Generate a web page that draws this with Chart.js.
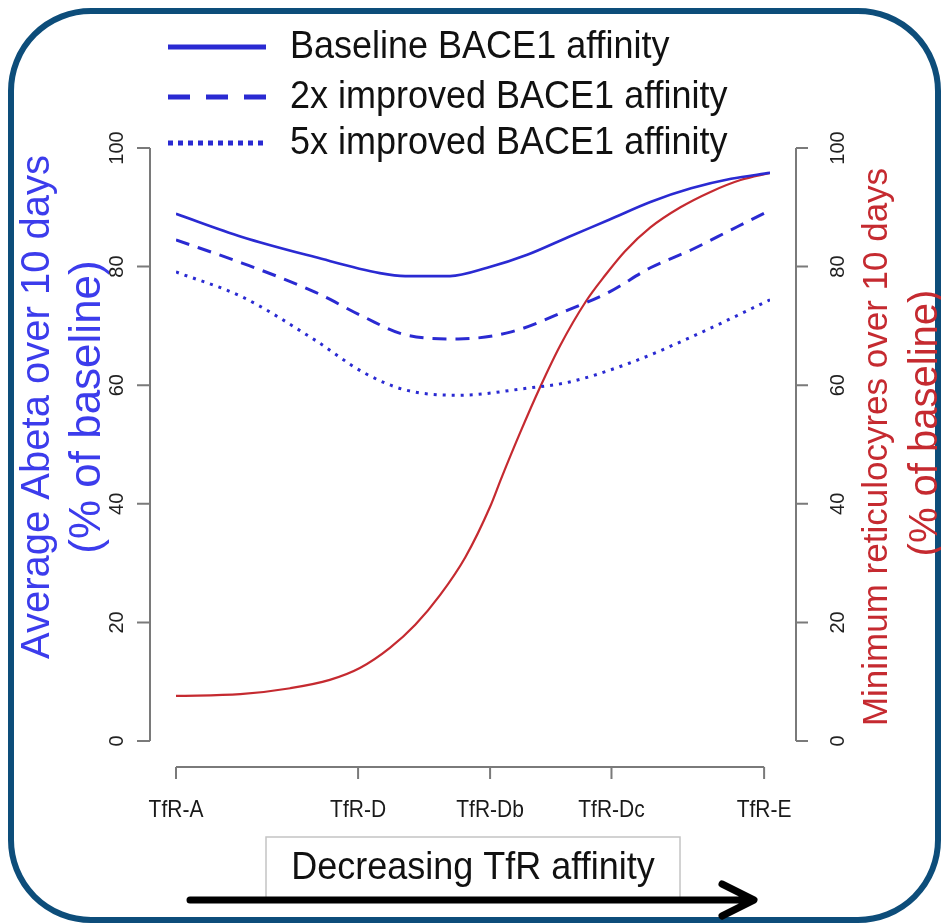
<!DOCTYPE html>
<html lang="en">
<head>
    <meta charset="UTF-8">
    <title>TfR affinity</title>
    <script src="https://cdn.jsdelivr.net/npm/chart.js@4.4.1/dist/chart.umd.min.js"></script>
    <style>
        html, body { margin: 0; padding: 0; background: #fff; }
        #wrap { width: 941px; height: 923px; }
    </style>
</head>
<body>
    <div id="wrap"><canvas id="chart" width="941" height="923"></canvas></div>

    <script>
        // x positions are relative TfR affinity (0 = TfR-A, ~100 = TfR-E)
        const tickNames = ["TfR-A", "TfR-D", "TfR-Db", "TfR-Dc", "TfR-E"];
        const tickPos = [0, 30.9, 53.3, 73.9, 99.8];
        const yTicks = [0, 20, 40, 60, 80, 100];

        const baseX = [0, 11.2, 23.6, 34.6, 38.9, 46.5, 52.8, 59.6, 66.6, 73.5, 80.5, 87.4, 94.2, 100.8];
        const baseY = [88.9, 85.0, 81.6, 78.9, 78.4, 78.4, 79.8, 82.0, 85.0, 87.9, 90.9, 93.2, 94.8, 95.8];

        const twoX = [0, 11.2, 23.6, 31.9, 38.9, 47.9, 56.9, 66.6, 73.5, 80.5, 87.4, 94.2, 100.8];
        const twoY = [84.5, 80.6, 75.7, 71.5, 68.5, 67.8, 69.0, 72.7, 75.7, 79.8, 82.8, 86.2, 89.5];

        const fiveX = [0, 11.2, 23.6, 31.9, 38.9, 47.9, 59.6, 66.6, 76.9, 87.4, 100.8];
        const fiveY = [79.1, 74.9, 67.6, 62.1, 59.2, 58.3, 59.5, 60.5, 63.7, 68.1, 74.4];

        const retX = [0, 10.9, 19.4, 26.1, 31.2, 36.3, 40.6, 44.8, 49.1, 53.3, 55.2, 58.4, 61.8, 65.2, 69.6, 72.8, 76.2, 80.5, 85.6, 90.7, 95.8, 100.8];
        const retY = [7.6, 7.9, 8.9, 10.3, 12.3, 15.7, 19.6, 24.6, 31.0, 39.5, 44.3, 52.0, 59.7, 66.7, 74.2, 78.5, 82.6, 86.6, 90.0, 92.6, 94.6, 95.8];

        const legendNames = ["Baseline BACE1 affinity", "2x improved BACE1 affinity", "5x improved BACE1 affinity"];

        const BLUE = "#2a2ad2";
        const RED = "#c52a30";
        const FONT = "'Liberation Sans', Arial, sans-serif";

        function pts(xs, ys) {
            return xs.map((x, i) => ({ x: x, y: ys[i] }));
        }

        // text drawn at (x, y), optionally stretched vertically by sy like the source image
        function txt(ctx, s, x, y, size, color, rot, sy, align) {
            ctx.save();
            ctx.translate(x, y);
            ctx.scale(1, sy || 1);
            ctx.rotate(rot || 0);
            ctx.font = size + "px " + FONT;
            ctx.fillStyle = color;
            ctx.textAlign = align || "center";
            ctx.textBaseline = "middle";
            ctx.fillText(s, 0, 0);
            ctx.restore();
        }

        const decor = {
            id: "decor",
            beforeDraw(chart) {
                const ctx = chart.ctx;
                ctx.save();
                ctx.fillStyle = "#fff";
                ctx.fillRect(0, 0, chart.width, chart.height);
                // rounded frame
                ctx.strokeStyle = "#0d4d7a";
                ctx.lineWidth = 6;
                ctx.beginPath();
                ctx.roundRect(11, 11, 927, 909, 80);
                ctx.stroke();
                ctx.restore();
            },
            afterDraw(chart) {
                const ctx = chart.ctx;
                const xs = chart.scales.x, yl = chart.scales.y, yr = chart.scales.y2;
                ctx.save();

                // axes, R style
                ctx.strokeStyle = "#7a7a7a";
                ctx.lineWidth = 2;
                ctx.beginPath();
                ctx.moveTo(150, yl.getPixelForValue(0));
                ctx.lineTo(150, yl.getPixelForValue(100));
                yTicks.forEach(v => { const p = yl.getPixelForValue(v); ctx.moveTo(150, p); ctx.lineTo(137, p); });
                ctx.moveTo(796, yr.getPixelForValue(0));
                ctx.lineTo(796, yr.getPixelForValue(100));
                yTicks.forEach(v => { const p = yr.getPixelForValue(v); ctx.moveTo(796, p); ctx.lineTo(808, p); });
                ctx.moveTo(xs.getPixelForValue(tickPos[0]), 767);
                ctx.lineTo(xs.getPixelForValue(tickPos[tickPos.length - 1]), 767);
                tickPos.forEach(v => { const p = xs.getPixelForValue(v); ctx.moveTo(p, 767); ctx.lineTo(p, 779); });
                ctx.stroke();

                yTicks.forEach(v => {
                    txt(ctx, String(v), 117, yl.getPixelForValue(v), 20, "#222", -Math.PI / 2);
                    txt(ctx, String(v), 838, yr.getPixelForValue(v), 20, "#222", -Math.PI / 2);
                });
                tickPos.forEach((v, i) => {
                    txt(ctx, tickNames[i], xs.getPixelForValue(v), 810, 21, "#1a1a1a", 0, 1.17);
                });

                // axis titles
                txt(ctx, "Average Abeta over 10 days", 38, 407, 40, "#3c3cec", -Math.PI / 2);
                txt(ctx, "(% of baseline)", 88, 407, 44, "#3c3cec", -Math.PI / 2);
                txt(ctx, "Minimum reticulocyres over 10 days", 877, 447, 35, RED, -Math.PI / 2);
                txt(ctx, "(% of baseline)", 926, 423, 40, RED, -Math.PI / 2);

                // legend
                const rows = [47, 97, 143];
                const dashes = [[], [22, 16], [5, 5]];
                rows.forEach((ry, i) => {
                    ctx.strokeStyle = BLUE;
                    ctx.lineWidth = 5;
                    ctx.setLineDash(dashes[i]);
                    ctx.beginPath();
                    ctx.moveTo(168, ry);
                    ctx.lineTo(266, ry);
                    ctx.stroke();
                    txt(ctx, legendNames[i], 290, ry, 36, "#111", 0, 1.1, "left");
                });
                ctx.setLineDash([]);

                // direction box and arrow
                ctx.strokeStyle = "#c4c4c4";
                ctx.lineWidth = 1.5;
                ctx.strokeRect(266, 837, 414, 62);
                txt(ctx, "Decreasing TfR affinity", 473, 868, 36, "#111", 0, 1.1);

                ctx.strokeStyle = "#000";
                ctx.lineWidth = 7;
                ctx.lineCap = "round";
                ctx.lineJoin = "round";
                ctx.beginPath();
                ctx.moveTo(190, 900);
                ctx.lineTo(752, 900);
                ctx.moveTo(722, 884);
                ctx.lineTo(754, 900);
                ctx.lineTo(722, 916);
                ctx.stroke();
                ctx.restore();
            }
        };

        const common = { pointRadius: 0, fill: false, cubicInterpolationMode: "monotone", borderCapStyle: "butt" };

        new Chart(document.getElementById("chart"), {
            type: "line",
            data: {
                datasets: [
                    Object.assign({ label: legendNames[0], data: pts(baseX, baseY), borderColor: BLUE, borderWidth: 2.6, yAxisID: "y" }, common),
                    Object.assign({ label: legendNames[1], data: pts(twoX, twoY), borderColor: BLUE, borderWidth: 3, borderDash: [14, 9], yAxisID: "y" }, common),
                    Object.assign({ label: legendNames[2], data: pts(fiveX, fiveY), borderColor: BLUE, borderWidth: 3, borderDash: [3, 6], yAxisID: "y" }, common),
                    Object.assign({ label: "Minimum reticulocytes", data: pts(retX, retY), borderColor: RED, borderWidth: 2.2, yAxisID: "y2" }, common)
                ]
            },
            options: {
                responsive: false,
                animation: false,
                layout: { padding: { left: 176, right: 171, top: 148, bottom: 182 } },
                plugins: { legend: { display: false }, tooltip: { enabled: false } },
                scales: {
                    x: { type: "linear", min: 0, max: 100.8, display: false },
                    y: { min: 0, max: 100, display: false },
                    y2: { min: 0, max: 100, display: false, position: "right" }
                }
            },
            plugins: [decor]
        });
    </script>
</body>
</html>
